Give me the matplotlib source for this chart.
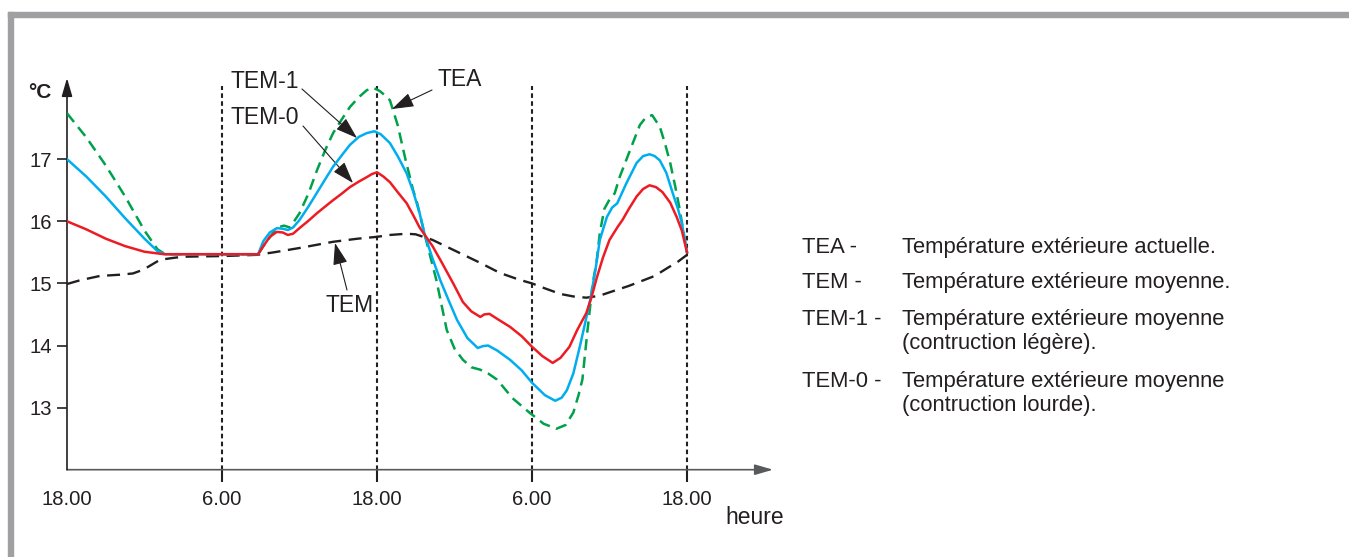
import matplotlib
matplotlib.use("Agg")
import matplotlib.pyplot as plt
from matplotlib.patches import Rectangle

plt.rcParams["font.family"] = ["Liberation Sans", "DejaVu Sans"]

# ---------------- data (hours after 18.00, temperature in °C) ----------------
tea_h = [0, 1.5, 3, 4.5, 6, 7, 7.6, 10, 14.8, 15.2, 15.7, 16.25, 16.8, 17.26, 18.0, 18.7,
         19.35, 20.0, 20.6, 21.3, 21.9, 22.6, 23.2, 23.7, 24.2, 24.6, 25.0, 25.6, 26.2,
         26.8, 27.1, 27.7, 28.6, 29.4, 30.0, 30.65, 31.3, 32.0, 32.6, 33.3, 34.5, 35.8,
         36.9, 37.9, 38.6, 39.2, 39.6, 39.9, 40.3, 40.7, 41.0, 41.25, 41.6, 42.0, 42.4,
         42.8, 43.6, 44.35, 44.8, 45.3, 45.9, 46.3, 46.7, 47.1, 47.4, 48.0]
tea_t = [17.74, 17.35, 16.9, 16.4, 15.85, 15.55, 15.47, 15.47, 15.47, 15.6, 15.74, 15.9, 15.93,
         15.9, 16.13, 16.45, 16.82, 17.15, 17.42, 17.65, 17.84, 18.0, 18.11, 18.15, 18.1,
         18.03, 17.95, 17.55, 17.0, 16.5, 16.3, 15.78, 15.05, 14.25, 13.95, 13.77, 13.65,
         13.61, 13.55, 13.45, 13.15, 12.92, 12.74, 12.66, 12.72, 12.92, 13.2, 13.45, 14.25,
         15.0, 15.35, 15.81, 16.2, 16.35, 16.45, 16.72, 17.15, 17.55, 17.67, 17.71, 17.52,
         17.25, 16.94, 16.55, 16.23, 15.5]

tem1_h = [0, 1.5, 3, 4.5, 6, 7, 7.6, 10, 14.8, 15.2, 15.7, 16.25, 16.7, 17.1, 17.5, 18.0,
          18.7, 19.35, 20.0, 20.6, 21.3, 21.9, 22.6, 23.2, 23.8, 24.3, 25.0, 25.6, 26.3,
          26.8, 27.3, 27.7, 28.3, 28.9, 29.6, 30.2, 31.0, 31.8, 32.2, 32.6, 33.3, 34.3,
          35.2, 36.0, 37.0, 37.8, 38.3, 38.7, 39.2, 39.7, 40.1, 40.5, 40.9, 41.25, 41.8,
          42.2, 42.6, 43.3, 44.1, 44.6, 45.1, 45.5, 45.9, 46.4, 46.9, 47.3, 47.6, 48.0]
tem1_t = [17.0, 16.72, 16.4, 16.05, 15.72, 15.52, 15.47, 15.47, 15.47, 15.68, 15.82, 15.89,
          15.88, 15.86, 15.9, 16.02, 16.24, 16.46, 16.68, 16.88, 17.07, 17.23, 17.36, 17.42,
          17.45, 17.4, 17.26, 17.05, 16.77, 16.48, 16.13, 15.78, 15.4, 15.05, 14.7, 14.41,
          14.12, 13.96, 13.99, 14.0, 13.92, 13.77, 13.6, 13.4, 13.2, 13.11, 13.16, 13.28,
          13.55, 13.98, 14.35, 14.73, 15.2, 15.7, 16.07, 16.22, 16.29, 16.61, 16.94, 17.05,
          17.08, 17.05, 16.98, 16.78, 16.45, 16.2, 15.97, 15.5]

tem0_h = [0, 1.5, 3, 4.5, 6, 7.5, 10, 14.8, 15.2, 15.7, 16.25, 16.7, 17.1, 17.5, 18.0, 18.7,
          19.35, 20.0, 20.6, 21.3, 21.9, 22.6, 23.2, 23.6, 24.0, 24.5, 25.0, 25.6, 26.3,
          26.8, 27.3, 27.7, 28.3, 28.9, 29.9, 30.65, 31.3, 32.0, 32.3, 32.7, 33.3, 34.3,
          35.2, 36.0, 36.8, 37.6, 38.2, 38.9, 39.5, 40.2, 40.6, 41.0, 41.5, 42.0, 42.6,
          43.0, 43.5, 44.1, 44.6, 45.1, 45.6, 46.1, 46.7, 47.2, 47.6, 48.0]
tem0_t = [16.0, 15.87, 15.72, 15.6, 15.51, 15.47, 15.47, 15.47, 15.6, 15.75, 15.83, 15.82,
          15.78, 15.8, 15.89, 16.01, 16.13, 16.24, 16.34, 16.45, 16.55, 16.64, 16.71, 16.76,
          16.79, 16.72, 16.63, 16.47, 16.29, 16.1, 15.9, 15.78, 15.6, 15.38, 15.0, 14.7,
          14.55, 14.46, 14.5, 14.51, 14.43, 14.3, 14.15, 13.98, 13.83, 13.72, 13.8, 13.98,
          14.25, 14.52, 14.77, 15.08, 15.42, 15.7, 15.9, 16.02, 16.2, 16.4, 16.52, 16.58,
          16.55, 16.47, 16.3, 16.07, 15.85, 15.5]

tem_h = [0, 1, 2.55, 4.1, 5.1, 5.9, 7.2, 8.2, 9.0, 12, 14.7, 16, 18, 20.6, 22.5, 24, 25,
         26.3, 27, 28.3, 29.5, 31, 32, 33.5, 35, 36, 37, 38.2, 39.2, 40.2, 41.2, 42.2, 43.5,
         44.5, 45.5, 46.5, 47.3, 48]
tem_t = [14.99, 15.05, 15.12, 15.14, 15.16, 15.22, 15.38, 15.41, 15.43, 15.44, 15.46, 15.5,
         15.57, 15.67, 15.72, 15.75, 15.78, 15.8, 15.79, 15.7, 15.58, 15.43, 15.33, 15.17,
         15.06, 15.0, 14.92, 14.83, 14.79, 14.77, 14.8, 14.87, 14.96, 15.04, 15.12, 15.25,
         15.35, 15.46]

x_ticks = [0, 12, 24, 36, 48]
x_labels = ["18.00", "6.00", "18.00", "6.00", "18.00"]
y_ticks = [13, 14, 15, 16, 17]

legend_keys = ["TEA -", "TEM -", "TEM-1 -", "TEM-0 -"]
legend_text = [["Température extérieure actuelle."],
               ["Température extérieure moyenne."],
               ["Température extérieure moyenne", "(contruction légère)."],
               ["Température extérieure moyenne", "(contruction lourde)."]]

# ---------------- layout helpers (pixel geometry of the figure) ----------------
W, H = 1349, 557
X0, PXH = 67, 620 / 48          # x pixel of hour 0, pixels per hour
Y12, PXT = 469.7, 62.1          # y pixel of 12 °C, pixels per °C
TOP = 78                         # y pixel of the y-axis arrow tip
RIGHT = 773                      # x pixel of the x-axis arrow tip
TXT = "#231f20"


def fx(x):
    return x / W


def fy(y):
    return 1 - y / H


def hx(x):
    return (x - X0) / PXH


def ty(y):
    return 12 + (Y12 - y) / PXT


fig = plt.figure(figsize=(W / 100, H / 100), dpi=100)

# grey frame (top and left)
grey = "#a0a0a3"
fig.patches.append(Rectangle((fx(8), fy(16.5)), 1 - fx(8), 4.5 / H, transform=fig.transFigure,
                             color=grey, zorder=0))
fig.patches.append(Rectangle((fx(8), 0), 5 / W, fy(12), transform=fig.transFigure,
                             color=grey, zorder=0))

ax = fig.add_axes([fx(X0), fy(Y12), (RIGHT - X0) / W, (Y12 - TOP) / H])
ax.set_xlim(0, hx(RIGHT))
ax.set_ylim(12, ty(TOP))
for s in ax.spines.values():
    s.set_visible(False)
ax.patch.set_visible(False)

# axes with arrow heads
ax.annotate("", xy=(1, 0), xytext=(0, 0), xycoords="axes fraction",
            arrowprops=dict(arrowstyle="-|>,head_length=0.55,head_width=0.16", color="#58595b",
                            lw=1.2, shrinkA=0, shrinkB=0, mutation_scale=20), annotation_clip=False)
ax.annotate("", xy=(0, 1), xytext=(0, 0), xycoords="axes fraction",
            arrowprops=dict(arrowstyle="-|>,head_length=0.55,head_width=0.16", color=TXT,
                            lw=1.2, shrinkA=0, shrinkB=0, mutation_scale=20), annotation_clip=False)

ax.set_xticks(x_ticks, x_labels)
ax.set_yticks(y_ticks)
ax.tick_params(axis="x", length=8.6, width=1.5, pad=6, labelsize=14.6, colors=TXT)
ax.tick_params(axis="y", length=7.2, width=1.2, pad=3.6, labelsize=14.6, colors=TXT)
ax.xaxis.get_major_ticks()[0].tick1line.set_visible(False)

# vertical dotted lines
for h in x_ticks[1:]:
    ax.plot([h, h], [12, ty(86)], color=TXT, lw=1.5, dashes=(2.2, 1.6), clip_on=False, zorder=1)

# curves
ax.plot(tem_h, tem_t, color=TXT, lw=1.7, dashes=(5.5, 3.2), zorder=2)
ax.plot(tea_h, tea_t, color="#00a14b", lw=1.8, dashes=(4.5, 2.6), zorder=3)
ax.plot(tem1_h, tem1_t, color="#00aeef", lw=1.8, zorder=4)
ax.plot(tem0_h, tem0_t, color="#ed1c24", lw=1.8, zorder=4)

# callouts
arr = dict(arrowstyle="-|>,head_length=0.75,head_width=0.25", color=TXT, lw=0.8,
           shrinkA=0, shrinkB=0, mutation_scale=18)
callouts = [("TEM-1", (265, 82), (302, 89), (357, 138)),
            ("TEM-0", (265, 117), (303, 126), (353, 183)),
            ("TEA", (460, 80), (432, 90), (392, 109)),
            ("TEM", (350, 306), (347, 290), (335, 243))]
for label, (tx, tyy), (sx, sy), (ex, ey) in callouts:
    ax.text(hx(tx), ty(tyy), label, ha="center", va="center", fontsize=16.5, color=TXT,
            clip_on=False)
    ax.annotate("", xy=(hx(ex), ty(ey)), xytext=(hx(sx), ty(sy)), arrowprops=arr,
                annotation_clip=False)

fig.text(fx(40), fy(92), "°C", ha="center", va="center", fontsize=15, fontweight="bold",
         color=TXT)
fig.text(fx(755), fy(518), "heure", ha="center", va="center", fontsize=16.5, color=TXT)

# explanation list on the right
rows = [253, 288, 325, 387]
for key, lines, base in zip(legend_keys, legend_text, rows):
    fig.text(fx(802), fy(base), key, ha="left", va="baseline", fontsize=15.8, color=TXT)
    for i, line in enumerate(lines):
        fig.text(fx(902), fy(base + 23.5 * i), line, ha="left", va="baseline", fontsize=15.8,
                 color=TXT)

fig.savefig("out.png", dpi=100)
